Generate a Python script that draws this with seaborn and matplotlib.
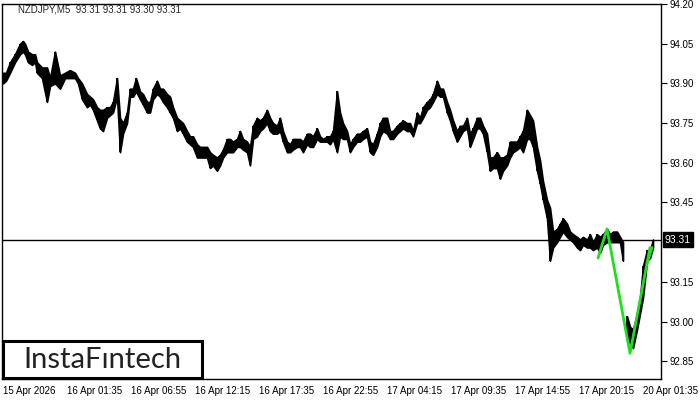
import matplotlib
matplotlib.use("Agg")
import matplotlib.pyplot as plt
import matplotlib.transforms as mtransforms
from matplotlib.patches import Rectangle
import numpy as np
import seaborn as sns

# bar index (5-minute bars from 15 Apr 2026 00:00), sampled highs / lows
bar_idx = [0, 3, 7, 12, 17, 20, 22, 25, 29, 32, 34, 39, 44, 47, 52, 57, 62, 67, 72, 75,
           79, 84, 87, 90, 94, 97, 100, 104, 107, 110, 114, 117, 120, 124,
           127, 130, 133, 137, 140, 144, 147, 150, 154, 157, 160, 164, 167, 170, 174, 177,
           180, 184, 187, 190, 194, 197, 200, 204, 207, 210, 214, 217, 220, 224, 227, 230,
           234, 237, 240, 244, 247, 250, 254,
           257, 260, 264, 267, 270, 274, 277, 280, 284, 287, 290, 294, 297, 300, 304, 307,
           310, 314, 317, 320, 324, 327, 330, 334, 337, 340, 344, 347, 350, 354, 357, 360,
           364, 367, 370, 374, 377, 380, 384,
           387, 390, 394, 397, 400, 404, 407, 410, 414, 417, 420, 424, 427, 430, 434, 437,
           440, 444, 447, 450, 454, 457, 460, 464, 467, 470, 474, 477, 480, 484, 487, 490,
           494, 497, 500, 504, 507, 510, 514, 517, 520,
           524, 527, 530, 534, 537, 540, 544, 547, 550, 554, 557, 560, 564, 567, 570, 574,
           577, 580, 584, 587, 590, 594, 597, 600, 604, 607, 610, 614, 617, 620,
           624, 627, 630, 634, 637, 640, 644, 647, 650]
bar_high = [93.94, 93.94, 93.98, 94.01, 94.05, 94.06, 94.05, 94.02, 94.01, 94.01, 93.98, 93.96,
            93.96, 93.92, 94.02, 93.93, 93.94, 93.95, 93.94, 93.92, 93.90, 93.86, 93.85, 93.84,
            93.81, 93.80, 93.80, 93.81, 93.81, 93.83, 93.92, 93.77, 93.75, 93.79,
            93.88, 93.88, 93.92, 93.87, 93.86, 93.83, 93.83, 93.88, 93.91, 93.88, 93.88, 93.86,
            93.85, 93.81, 93.77, 93.76, 93.75, 93.72, 93.70, 93.70, 93.67, 93.66, 93.66, 93.66,
            93.64, 93.63, 93.62, 93.63, 93.65, 93.69, 93.69, 93.68, 93.69, 93.72, 93.69, 93.68,
            93.66, 93.74, 93.77,
            93.76, 93.77, 93.80, 93.77, 93.75, 93.74, 93.77, 93.72, 93.68, 93.67, 93.69, 93.69,
            93.69, 93.68, 93.71, 93.71, 93.70, 93.73, 93.70, 93.69, 93.70, 93.70, 93.72, 93.87,
            93.79, 93.75, 93.72, 93.67, 93.69, 93.71, 93.71, 93.72, 93.73, 93.68, 93.67, 93.71,
            93.75, 93.77, 93.77,
            93.72, 93.72, 93.74, 93.75, 93.76, 93.75, 93.75, 93.72, 93.79, 93.77, 93.81, 93.83,
            93.84, 93.86, 93.91, 93.88, 93.88, 93.83, 93.80, 93.76, 93.72, 93.74, 93.74, 93.77,
            93.71, 93.73, 93.77, 93.77, 93.74, 93.71, 93.62, 93.62, 93.64, 93.62, 93.62, 93.63,
            93.68, 93.68, 93.68, 93.70, 93.72,
            93.80, 93.78, 93.76, 93.66, 93.61, 93.53, 93.46, 93.43, 93.34, 93.35, 93.37, 93.39,
            93.37, 93.34, 93.33, 93.32, 93.31, 93.32, 93.31, 93.33, 93.30, 93.33, 93.32, 93.33,
            93.35, 93.33, 93.34, 93.34, 93.32, 93.30,
            93.02, 92.98, 92.97, 93.03, 93.09, 93.21, 93.27, 93.27, 93.31]
bar_low = [93.90, 93.91, 93.94, 93.98, 94.01, 94.02, 94.01, 93.98, 93.97, 93.98, 93.94, 93.92,
           93.83, 93.89, 93.90, 93.88, 93.92, 93.92, 93.92, 93.90, 93.84, 93.81, 93.82, 93.80,
           93.76, 93.73, 93.72, 93.77, 93.78, 93.79, 93.85, 93.64, 93.71, 93.75,
           93.85, 93.85, 93.87, 93.84, 93.82, 93.79, 93.79, 93.84, 93.86, 93.85, 93.83, 93.81,
           93.79, 93.77, 93.72, 93.73, 93.71, 93.68, 93.67, 93.66, 93.62, 93.62, 93.62, 93.62,
           93.58, 93.59, 93.57, 93.59, 93.62, 93.64, 93.64, 93.64, 93.66, 93.66, 93.65, 93.64,
           93.59, 93.69, 93.70,
           93.72, 93.73, 93.75, 93.72, 93.71, 93.71, 93.72, 93.68, 93.64, 93.64, 93.65, 93.66,
           93.66, 93.64, 93.67, 93.66, 93.66, 93.69, 93.68, 93.68, 93.68, 93.67, 93.69, 93.64,
           93.70, 93.69, 93.69, 93.64, 93.66, 93.68, 93.68, 93.69, 93.70, 93.64, 93.63, 93.66,
           93.70, 93.72, 93.71,
           93.69, 93.69, 93.71, 93.72, 93.73, 93.72, 93.72, 93.70, 93.75, 93.75, 93.77, 93.80,
           93.81, 93.83, 93.86, 93.85, 93.85, 93.79, 93.76, 93.72, 93.68, 93.70, 93.72, 93.73,
           93.66, 93.69, 93.73, 93.73, 93.71, 93.64, 93.57, 93.58, 93.58, 93.54, 93.57, 93.59,
           93.62, 93.64, 93.65, 93.66, 93.64,
           93.69, 93.69, 93.66, 93.57, 93.52, 93.46, 93.39, 93.23, 93.28, 93.30, 93.32, 93.34,
           93.32, 93.31, 93.30, 93.28, 93.27, 93.29, 93.28, 93.28, 93.27, 93.28, 93.26, 93.29,
           93.30, 93.30, 93.30, 93.30, 93.30, 93.23,
           92.93, 92.92, 92.90, 92.97, 93.03, 93.09, 93.23, 93.24, 93.28]
weekend_start = 624  # first bar after the weekend gap

# pattern zigzag
pattern_x = [595, 604, 627, 647]
pattern_y = [93.24, 93.35, 92.88, 93.28]
pattern2_x = [644, 649]
pattern2_y = [93.22, 93.28]

last_price = 93.31
header = "NZDJPY,M5  93.31 93.31 93.30 93.31"

y_ticks = [92.85, 93.00, 93.15, 93.45, 93.60, 93.75, 93.90, 94.05, 94.20]
x_tick_pos = [0, 64, 128, 192, 256, 320, 384, 448, 512, 576, 640]
x_tick_labels = ["15 Apr 2026", "16 Apr 01:35", "16 Apr 06:55", "16 Apr 12:15",
                 "16 Apr 17:35", "16 Apr 22:55", "17 Apr 04:15", "17 Apr 09:35",
                 "17 Apr 14:55", "17 Apr 20:15", "20 Apr 01:35"]

sns.set_style("white")
plt.rcParams["font.family"] = ["Liberation Sans", "DejaVu Sans"]

fig = plt.figure(figsize=(7, 4), dpi=100)
ax = fig.add_axes([2 / 700, 21 / 400, 659 / 700, 375 / 400])

idx = np.array(bar_idx)
hi = np.array(bar_high)
lo = np.array(bar_low)
for part in (idx < weekend_start, idx >= weekend_start):
    ax.fill_between(idx[part], lo[part], hi[part], color="black", lw=1.2, edgecolor="black")
ax.vlines(idx, lo, hi, color="black", lw=1.3)

ax.axhline(last_price, color="black", lw=1, zorder=1)

sns.lineplot(x=pattern_x, y=pattern_y, color="#1EE01E", lw=2, sort=False, ax=ax, zorder=5)
sns.lineplot(x=pattern2_x, y=pattern2_y, color="#1EE01E", lw=2, sort=False, ax=ax, zorder=5)

ax.set_xlim(-1, 658)
ax.set_ylim(92.783, 94.20)

ax.yaxis.tick_right()
ax.set_yticks(y_ticks)
ax.set_yticklabels([f"{v:.2f}" for v in y_ticks], fontsize=7)
ax.set_xticks(x_tick_pos)
ax.set_xticklabels(x_tick_labels, fontsize=7, ha="left")
ax.tick_params(axis="y", direction="out", length=4, width=0.8, pad=2, colors="black")
ax.tick_params(axis="x", direction="out", length=4, width=0.8, pad=1, colors="black")
ax.set_xlabel("")
ax.set_ylabel("")
for s in ax.spines.values():
    s.set_color("black")
    s.set_linewidth(1)

# price label on right axis
trans = mtransforms.blended_transform_factory(ax.transAxes, ax.transData)
ax.text(1.006, last_price, f"{last_price:.2f}", transform=trans, fontsize=7.5,
        color="white", va="center", ha="left", zorder=10, clip_on=False,
        bbox=dict(boxstyle="square,pad=0.2", fc="black", ec="black"))

fig.text(18 / 700, 1 - 10 / 400, header, fontsize=7, va="center", ha="left")

# logo box
fig.patches.append(Rectangle((3 / 700, 22 / 400), 199 / 700, 37 / 400,
                             transform=fig.transFigure, fc="white", ec="black",
                             lw=2.2, zorder=20))
fig.text(102 / 700, 40.5 / 400, "InstaF\u0131ntech", fontsize=21, family="Lato",
         color="#222222", ha="center", va="center", zorder=21)

fig.savefig("out.png", dpi=100)
